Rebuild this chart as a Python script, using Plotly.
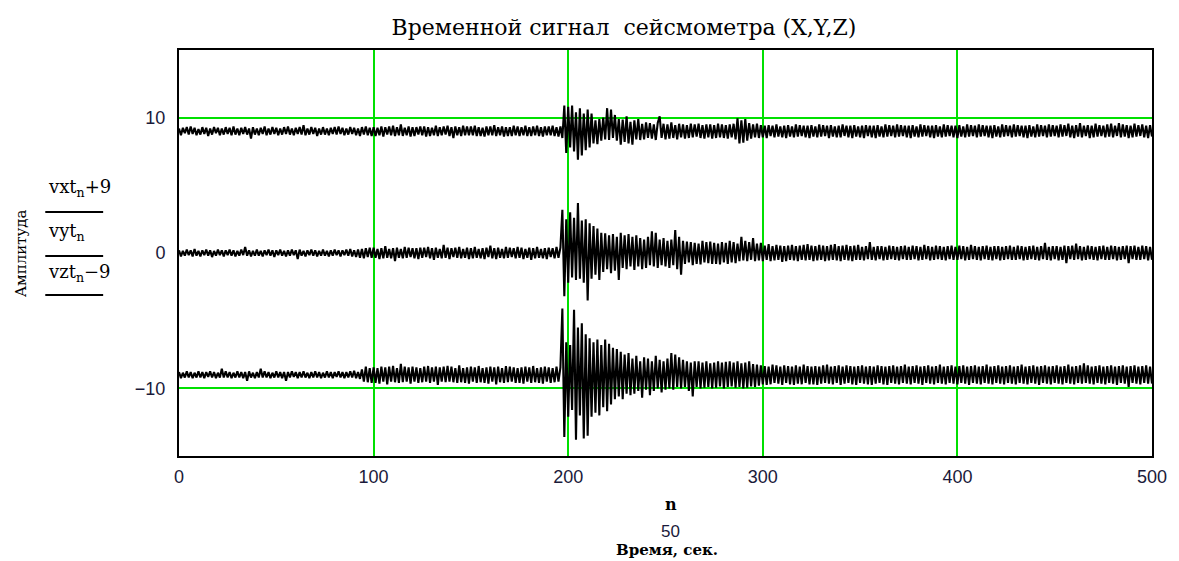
import plotly.graph_objects as go

# ---------------- data ----------------
n = list(range(0, 501))  # sample index (x axis)

vxt = [
    0.2, -0.3, 0.25, -0.15, 0.3, -0.25, 0.35, -0.2, 0.25, -0.3, 0.15, -0.25, 0.3, -0.2, 0.25, -0.35, 0.2, -0.25, 0.3, -0.15, 0.25, -0.3, 0.2, -0.25, 0.3,
    -0.2, 0.25, -0.3, 0.35, -0.25, 0.2, -0.3, 0.25, -0.2, 0.3, -0.25, 0.2, -0.55, 0.3, -0.25, 0.2, -0.3, 0.25, -0.2, 0.35, -0.3, 0.2, -0.25, 0.3, -0.2,
    0.25, -0.3, 0.2, -0.25, 0.3, -0.2, 0.35, -0.25, 0.2, -0.3, 0.25, -0.2, 0.3, -0.25, 0.45, -0.3, 0.2, -0.25, 0.3, -0.2, 0.25, -0.35, 0.2, -0.25, 0.3,
    -0.25, 0.2, -0.3, 0.25, -0.2, 0.3, -0.25, 0.35, -0.2, 0.25, -0.3, 0.2, -0.25, 0.3, -0.2, 0.25, -0.3, 0.2, -0.35, 0.3, -0.25, 0.35, -0.3, 0.25, -0.35,
    0.3, -0.35, 0.25, -0.3, 0.35, -0.4, 0.3, -0.25, 0.35, -0.3, 0.4, -0.35, 0.3, -0.3, 0.5, -0.35, 0.25, -0.3, 0.35, -0.4, 0.3, -0.35, 0.3, -0.25, 0.35,
    -0.3, 0.35, -0.4, 0.3, -0.35, 0.25, -0.3, 0.4, -0.35, 0.3, -0.3, 0.35, -0.25, 0.4, -0.35, 0.3, -0.5, 0.35, -0.3, 0.3, -0.35, 0.4, -0.3, 0.35, -0.3,
    0.35, -0.3, 0.4, -0.35, 0.3, -0.35, 0.25, -0.4, 0.35, -0.3, 0.35, -0.3, 0.45, -0.35, 0.3, -0.3, 0.35, -0.4, 0.3, -0.35, 0.3, -0.35, 0.4, -0.3, 0.35,
    -0.35, 0.3, -0.3, 0.4, -0.35, 0.3, -0.35, 0.35, -0.3, 0.4, -0.35, 0.3, -0.4, 0.35, -0.3, 0.35, -0.3, 0.4, -0.35, 0.3, -0.4, 0.35, -0.5, 1.9, -1.6,
    1.8, -1.2, 1.9, -1.5, 1.4, -2.1, 1.7, -1.8, 1.3, -1.4, 1.6, -1.2, 1.3, -0.9, 0.8, -0.95, 0.9, -0.7, 1.0, -0.6, 1.7, -0.65, 1.6, -0.5, 1.2,
    -0.7, 0.9, -1.0, 0.85, -0.8, 1.1, -0.9, 0.7, -1.0, 0.8, -0.6, 0.9, -0.65, 0.55, -0.6, 0.65, -0.5, 0.6, -0.55, 0.5, -0.65, 0.6, 1.1, -0.5, 0.55,
    -0.6, 0.5, -0.55, 0.65, -0.5, 0.45, -0.6, 0.55, -0.45, 0.5, -0.55, 0.45, -0.5, 0.55, -0.45, 0.5, -0.4, 0.55, -0.5, 0.45, -0.55, 0.5, -0.45, 0.5, -0.55,
    0.45, -0.5, 0.55, -0.45, 0.5, -0.5, 0.45, -0.55, 0.5, -0.45, 0.55, -0.6, 0.95, -0.9, 0.8, -0.85, 0.9, -0.7, 0.6, -0.55, 0.5, -0.45, 0.55, -0.5, 0.45,
    -0.45, 0.4, -0.5, 0.45, -0.35, 0.4, -0.45, 0.5, -0.4, 0.35, -0.45, 0.4, -0.5, 0.45, -0.4, 0.35, -0.45, 0.5, -0.4, 0.45, -0.35, 0.4, -0.45, 0.4, -0.5,
    0.45, -0.4, 0.35, -0.45, 0.5, -0.4, 0.45, -0.35, 0.4, -0.5, 0.45, -0.4, 0.35, -0.45, 0.4, -0.45, 0.5, -0.35, 0.4, -0.45, 0.4, -0.5, 0.45, -0.4, 0.35,
    -0.45, 0.4, -0.5, 0.45, -0.35, 0.4, -0.45, 0.4, -0.5, 0.45, -0.4, 0.35, -0.45, 0.5, -0.4, 0.45, -0.35, 0.4, -0.45, 0.5, -0.4, 0.45, -0.35, 0.4, -0.45,
    0.4, -0.5, 0.45, -0.4, 0.35, -0.45, 0.5, -0.4, 0.45, -0.35, 0.4, -0.45, 0.4, -0.5, 0.45, -0.4, 0.35, -0.45, 0.5, -0.4, 0.45, -0.35, 0.4, -0.45, 0.4,
    -0.5, 0.45, -0.4, 0.35, -0.45, 0.5, -0.4, 0.45, -0.35, 0.4, -0.45, 0.5, -0.4, 0.45, -0.35, 0.4, -0.45, 0.4, -0.5, 0.45, -0.4, 0.35, -0.45, 0.5, -0.4,
    0.45, -0.35, 0.4, -0.45, 0.5, -0.4, 0.45, -0.35, 0.4, -0.45, 0.4, -0.5, 0.45, -0.4, 0.35, -0.45, 0.5, -0.4, 0.45, -0.35, 0.4, -0.45, 0.5, -0.4, 0.45,
    -0.35, 0.4, -0.45, 0.5, -0.4, 0.45, -0.35, 0.55, -0.45, 0.4, -0.5, 0.45, -0.4, 0.6, -0.45, 0.4, -0.35, 0.45, -0.5, 0.4, -0.45, 0.55, -0.4, 0.45, -0.35,
    0.4, -0.45, 0.5, -0.4, 0.55, -0.45, 0.4, -0.35, 0.6, -0.45, 0.5, -0.4, 0.45, -0.5, 0.4, -0.45, 0.55, -0.4, 0.45, -0.35, 0.5, -0.45, 0.4, -0.5, 0.45,
    -0.4,
]

vyt = [
    0.2, -0.25, 0.15, -0.2, 0.25, -0.15, 0.2, -0.25, 0.3, -0.2, 0.15, -0.25, 0.2, -0.15, 0.25, -0.2, 0.2, -0.3, 0.15, -0.2, 0.25, -0.15, 0.2, -0.25, 0.2,
    -0.15, 0.25, -0.2, 0.2, -0.25, 0.15, -0.2, 0.25, -0.15, 0.45, -0.2, 0.2, -0.25, 0.15, -0.2, 0.25, -0.2, 0.15, -0.25, 0.2, -0.15, 0.25, -0.2, 0.2, -0.3,
    0.2, -0.15, 0.25, -0.2, 0.15, -0.25, 0.2, -0.2, 0.25, -0.15, 0.2, -0.45, 0.25, -0.2, 0.15, -0.25, 0.2, -0.15, 0.25, -0.2, 0.2, -0.25, 0.15, -0.2, 0.25,
    -0.2, 0.15, -0.25, 0.2, -0.2, 0.25, -0.15, 0.2, -0.25, 0.2, -0.15, 0.25, -0.2, 0.3, -0.25, 0.2, -0.3, 0.25, -0.35, 0.3, -0.4, 0.35, -0.3, 0.4, -0.35,
    0.4, -0.35, 0.3, -0.45, 0.35, -0.4, 0.5, -0.35, 0.3, -0.4, 0.35, -0.6, 0.4, -0.35, 0.3, -0.4, 0.45, -0.35, 0.4, -0.3, 0.35, -0.4, 0.35, -0.45, 0.4,
    -0.35, 0.4, -0.3, 0.45, -0.4, 0.35, -0.5, 0.4, -0.35, 0.3, -0.4, 0.6, -0.35, 0.4, -0.45, 0.35, -0.3, 0.4, -0.35, 0.45, -0.4, 0.3, -0.35, 0.4, -0.45,
    0.35, -0.4, 0.45, -0.35, 0.3, -0.4, 0.35, -0.45, 0.4, -0.3, 0.55, -0.4, 0.35, -0.45, 0.4, -0.35, 0.3, -0.4, 0.45, -0.35, 0.4, -0.3, 0.35, -0.4, 0.45,
    -0.35, 0.4, -0.45, 0.3, -0.35, 0.4, -0.5, 0.35, -0.4, 0.45, -0.35, 0.3, -0.4, 0.35, -0.45, 0.4, -0.3, 0.35, -0.4, 0.45, -0.35, 0.4, 3.2, -3.2, 2.5,
    -2.2, 3.0, -1.8, 2.6, -2.0, 3.7, -1.9, 2.4, -2.2, 2.5, -3.5, 2.2, -1.9, 2.0, -1.6, 1.8, -2.0, 1.5, -1.4, 1.45, -1.2, 1.3, -1.5, 1.4, -1.3,
    1.2, -2.0, 1.5, -1.1, 1.3, -1.2, 1.4, -1.0, 1.2, -1.25, 1.3, -1.0, 1.1, -1.2, 1.0, -1.1, 1.2, -0.9, 1.6, -1.0, 1.5, -1.1, 1.0, -0.9, 1.1,
    -1.0, 0.9, -1.1, 1.0, -0.9, 1.7, -1.2, 1.2, -1.6, 0.9, -0.8, 0.85, -0.7, 0.8, -0.9, 0.75, -0.8, 0.7, -0.85, 0.9, -0.7, 0.8, -0.75, 0.85, -0.8,
    0.75, -0.8, 0.7, -0.85, 0.8, -0.7, 0.75, -0.8, 0.9, -0.7, 0.8, -0.75, 0.7, -0.6, 1.2, -0.55, 0.9, -0.6, 0.8, -0.5, 1.1, -0.6, 0.7, -0.55, 0.75,
    -0.6, 0.55, -0.5, 0.65, -0.6, 0.5, -0.55, 0.6, -0.5, 0.55, -0.65, 0.5, -0.6, 0.55, -0.5, 0.6, -0.55, 0.5, -0.6, 0.55, -0.5, 0.6, -0.55, 0.65, -0.5,
    0.55, -0.6, 0.5, -0.55, 0.6, -0.5, 0.55, -0.6, 0.5, -0.55, 0.6, -0.5, 0.65, -0.55, 0.5, -0.6, 0.55, -0.5, 0.6, -0.55, 0.5, -0.6, 0.55, -0.5, 0.6,
    -0.5, 0.45, -0.55, 0.5, -0.45, 0.8, -0.5, 0.45, -0.55, 0.5, -0.45, 0.5, -0.55, 0.45, -0.5, 0.55, -0.45, 0.5, -0.5, 0.45, -0.55, 0.5, -0.45, 0.55, -0.5,
    0.45, -0.5, 0.55, -0.45, 0.5, -0.55, 0.45, -0.5, 0.6, -0.45, 0.5, -0.55, 0.45, -0.5, 0.55, -0.45, 0.5, -0.5, 0.45, -0.55, 0.5, -0.45, 0.55, -0.5, 0.45,
    -0.5, 0.55, -0.45, 0.5, -0.55, 0.45, -0.5, 0.6, -0.45, 0.5, -0.5, 0.45, -0.55, 0.5, -0.45, 0.55, -0.5, 0.45, -0.55, 0.5, -0.45, 0.5, -0.55, 0.45, -0.5,
    0.5, -0.45, 0.55, -0.5, 0.45, -0.5, 0.55, -0.45, 0.5, -0.55, 0.45, -0.5, 0.5, -0.45, 0.55, -0.5, 0.45, -0.55, 0.5, -0.45, 0.75, -0.5, 0.45, -0.55, 0.5,
    -0.45, 0.5, -0.55, 0.45, -0.5, 0.55, -0.75, 0.5, -0.45, 0.55, -0.5, 0.7, -0.45, 0.5, -0.55, 0.45, -0.5, 0.55, -0.45, 0.5, -0.5, 0.45, -0.55, 0.5, -0.45,
    0.55, -0.5, 0.45, -0.5, 0.55, -0.45, 0.5, -0.55, 0.45, -0.5, 0.5, -0.45, 0.55, -0.75, 0.5, -0.45, 0.55, -0.5, 0.45, -0.5, 0.55, -0.45, 0.5, -0.55, 0.45,
    -0.5,
]

vzt = [
    0.2, -0.25, 0.15, -0.2, 0.25, -0.2, 0.2, -0.25, 0.15, -0.2, 0.25, -0.2, 0.2, -0.25, 0.2, -0.15, 0.25, -0.2, 0.2, -0.25, 0.15, -0.2, 0.45, -0.2, 0.25,
    -0.2, 0.2, -0.25, 0.15, -0.2, 0.25, -0.2, 0.2, -0.25, 0.2, -0.45, 0.25, -0.2, 0.15, -0.25, 0.2, -0.2, 0.45, -0.2, 0.25, -0.2, 0.2, -0.25, 0.15, -0.2,
    0.25, -0.2, 0.2, -0.25, 0.2, -0.45, 0.2, -0.2, 0.25, -0.15, 0.2, -0.25, 0.2, -0.2, 0.25, -0.2, 0.15, -0.25, 0.2, -0.2, 0.25, -0.2, 0.2, -0.25, 0.15,
    -0.2, 0.25, -0.2, 0.2, -0.25, 0.2, -0.15, 0.25, -0.2, 0.2, -0.25, 0.2, -0.2, 0.25, -0.2, 0.3, -0.25, 0.2, -0.3, 0.4, -0.5, 0.6, -0.55, 0.5, -0.6,
    0.55, -0.6, 0.5, -0.65, 0.6, -0.5, 0.55, -0.7, 0.6, -0.5, 0.65, -0.55, 0.5, -0.6, 0.8, -0.55, 0.6, -0.5, 0.55, -0.65, 0.6, -0.5, 0.55, -0.6, 0.5,
    -0.55, 0.6, -0.5, 0.65, -0.6, 0.55, -0.5, 0.6, -0.75, 0.55, -0.5, 0.6, -0.55, 0.65, -0.5, 0.6, -0.55, 0.5, -0.6, 0.7, -0.55, 0.5, -0.6, 0.55, -0.65,
    0.6, -0.5, 0.55, -0.6, 0.65, -0.55, 0.5, -0.6, 0.55, -0.65, 0.6, -0.5, 0.55, -0.7, 0.6, -0.55, 0.5, -0.6, 0.65, -0.55, 0.6, -0.5, 0.55, -0.6, 0.5,
    -0.6, 0.55, -0.65, 0.6, -0.5, 0.55, -0.6, 0.65, -0.55, 0.5, -0.6, 0.55, -0.65, 0.6, -0.5, 0.55, -0.6, 0.5, -0.55, 0.6, -0.5, 0.55, 4.9, -4.6, 2.4,
    -3.1, 2.2, -2.6, 4.8, -4.8, 3.5, -3.0, 3.8, -4.7, 3.0, -4.5, 2.7, -3.1, 2.4, -2.8, 2.6, -3.0, 2.2, -2.4, 2.6, -2.7, 2.3, -2.2, 2.0, -1.8,
    1.9, -1.6, 1.7, -1.8, 1.5, -1.4, 1.6, -1.5, 1.2, -1.4, 1.4, -1.2, 1.0, -1.7, 1.3, -1.1, 1.2, -1.5, 1.0, -1.2, 1.4, -1.0, 1.1, -1.3, 1.0,
    -1.1, 1.2, -1.0, 1.6, -1.1, 1.5, -0.9, 1.3, -1.0, 1.1, -0.9, 1.0, -1.2, 0.9, -1.6, 1.0, -0.9, 1.0, -1.0, 0.9, -0.95, 1.0, -0.9, 0.85, -1.0,
    0.9, -0.95, 1.0, -0.85, 0.9, -1.0, 0.95, -0.9, 1.0, -0.85, 0.9, -0.95, 1.0, -0.9, 0.85, -1.0, 0.9, -0.95, 1.0, -0.85, 0.8, -0.9, 0.75, -0.8, 0.7,
    -0.7, 0.65, -0.75, 0.6, -0.7, 0.75, -0.6, 0.7, -0.65, 0.6, -0.75, 0.7, -0.6, 0.65, -0.7, 0.6, -0.75, 0.7, -0.65, 0.6, -0.7, 0.75, -0.6, 0.65, -0.7,
    0.6, -0.7, 0.65, -0.75, 0.6, -0.65, 0.7, -0.6, 0.75, -0.65, 0.6, -0.7, 0.65, -0.6, 0.7, -0.75, 0.6, -0.65, 0.7, -0.6, 0.65, -0.7, 0.6, -0.75, 0.65,
    -0.6, 0.7, -0.65, 0.6, -0.7, 0.65, -0.75, 0.6, -0.65, 0.7, -0.6, 0.65, -0.7, 0.6, -0.75, 0.65, -0.6, 0.7, -0.65, 0.6, -0.7, 0.65, -0.6, 0.75, -0.65,
    0.6, -0.7, 0.65, -0.6, 0.7, -0.65, 0.6, -0.75, 0.65, -0.6, 0.7, -0.65, 0.6, -0.7, 0.65, -0.6, 0.75, -0.65, 0.6, -0.7, 0.65, -0.6, 0.7, -0.65, 0.6,
    -0.7, 0.65, -0.6, 0.7, -0.65, 0.6, -0.75, 0.65, -0.6, 0.7, -0.65, 0.6, -0.7, 0.65, -0.6, 0.75, -0.65, 0.6, -0.7, 0.65, -0.6, 0.7, -0.65, 0.6, -0.7,
    0.65, -0.6, 0.7, -0.65, 0.6, -0.7, 0.65, -0.6, 0.75, -0.65, 0.6, -0.7, 0.65, -0.6, 0.7, -0.65, 0.6, -0.75, 0.65, -0.6, 0.7, -0.65, 0.6, -0.7, 0.65,
    -0.6, 0.7, -0.65, 0.6, -0.7, 0.65, -0.6, 0.75, -0.65, 0.6, -0.7, 0.65, -0.6, 0.7, -0.65, 0.85, -0.6, 0.7, -0.65, 0.6, -0.7, 0.65, -0.6, 0.7, -0.65,
    0.6, -0.7, 0.65, -0.6, 0.7, -0.65, 0.6, -0.75, 0.65, -0.6, 0.7, -0.65, 0.6, -0.9, 0.65, -0.6, 0.7, -0.65, 0.6, -0.7, 0.65, -0.6, 0.7, -0.65, 0.6,
    -0.65,
]

offsets = [9, 0, -9]
x_ticks = [0, 100, 200, 300, 400, 500]
y_ticks = [-10, 0, 10]
marker_levels = [-10, 10]
title_text = "Временной сигнал  сейсмометра (X,Y,Z)"
legend_labels = ["vxt<sub>n</sub>+9", "vyt<sub>n</sub>", "vzt<sub>n</sub>−9"]

for arr in (vxt, vyt, vzt):
    assert len(arr) == len(n), len(arr)

# ---------------- layout geometry ----------------
W, H = 1179, 561
L, R, T, B = 179, 1154, 50, 456


def px(xp):
    return (xp - L) / (R - L)


def py(yp):
    return (B - yp) / (B - T)


fig = go.Figure()
for vals, off in zip((vxt, vyt, vzt), offsets):
    fig.add_trace(go.Scatter(
        x=n, y=[v + off for v in vals], mode="lines",
        line=dict(color="black", width=2.1), hoverinfo="skip", showlegend=False,
    ))

# invisible trace on the overlay axis so that its grid (marker lines) is drawn
fig.add_trace(go.Scatter(x=[n[0]], y=[marker_levels[0]], yaxis="y2", mode="markers",
                         marker=dict(opacity=0), hoverinfo="skip", showlegend=False))

green = "#00e000"
tick_font = dict(family="Liberation Sans", size=18, color="#1a1a3a")
fig.update_layout(
    width=W, height=H,
    margin=dict(l=L, r=W - R, t=T, b=H - B),
    paper_bgcolor="white", plot_bgcolor="white",
    xaxis=dict(range=[0, 500], tickvals=x_ticks, showgrid=True, gridcolor=green, gridwidth=1.5,
               zeroline=False, showline=True, linecolor="black", linewidth=2, mirror=True,
               ticks="", tickfont=tick_font, ticklabelstandoff=3),
    yaxis=dict(range=[-15, 15], tickvals=y_ticks, showgrid=False, zeroline=False,
               showline=True, linecolor="black", linewidth=2, mirror=True, ticks="",
               tickfont=tick_font, ticklabelstandoff=8),
    yaxis2=dict(range=[-15, 15], overlaying="y", tickvals=marker_levels, showgrid=True,
                gridcolor=green, gridwidth=1.5, showticklabels=False, zeroline=False,
                showline=False, ticks=""),
    title=dict(text=title_text, x=624 / W, xanchor="center", xref="container",
               y=1 - 27 / H, yanchor="middle",
               font=dict(family="DejaVu Serif", size=22, color="black")),
    showlegend=False,
)

annotations = []
# rotated axis label
annotations.append(dict(text="Амплитуда", x=px(21), y=py(253), xref="paper", yref="paper",
                        textangle=-90, showarrow=False, xanchor="center", yanchor="middle",
                        font=dict(family="DejaVu Serif", size=15, color="black")))
# Mathcad-style legend labels
for lab, ty in zip(legend_labels, [188, 232, 273]):
    annotations.append(dict(text=lab, x=px(46), y=py(ty), xref="paper", yref="paper",
                            showarrow=False, xanchor="left", yanchor="middle",
                            font=dict(family="DejaVu Serif", size=18, color="black")))
# x-axis expression n / 50 and caption
annotations.append(dict(text="<b>n</b>", x=px(672), y=py(505), xref="paper", yref="paper", showarrow=False,
                        xanchor="center", yanchor="middle",
                        font=dict(family="DejaVu Serif", size=16, color="black")))
annotations.append(dict(text="50", x=px(672), y=py(531), xref="paper", yref="paper", showarrow=False,
                        xanchor="center", yanchor="middle",
                        font=dict(family="Liberation Sans", size=17, color="#1a1a3a")))
annotations.append(dict(text="<b>Время, сек.</b>", x=px(668), y=py(550), xref="paper", yref="paper",
                        showarrow=False, xanchor="center", yanchor="middle",
                        font=dict(family="DejaVu Serif", size=15, color="black")))
fig.update_layout(annotations=annotations)

shapes = []
for ly in [212, 256, 295]:
    shapes.append(dict(type="line", xref="paper", yref="paper", x0=px(45), x1=px(103),
                       y0=py(ly), y1=py(ly), line=dict(color="black", width=2)))
fig.update_layout(shapes=shapes)

fig.write_html("out.html", config={"displayModeBar": False},
               post_script="document.body.style.margin='0px';document.body.style.overflow='hidden';")
